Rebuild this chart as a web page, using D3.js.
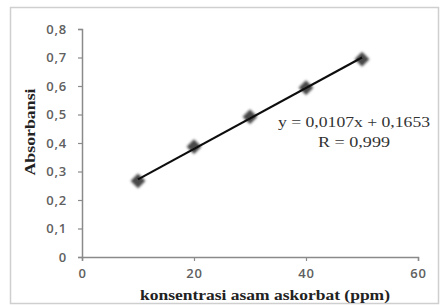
<!DOCTYPE html>
<html><head><meta charset="utf-8">
<script src="https://cdn.jsdelivr.net/npm/d3@7"></script>
<style>html,body{margin:0;padding:0;background:#fff;}svg{display:block;}</style>
</head><body>
<script>
const concentrations = [10, 20, 30, 40, 50];
const absorbance = [0.267, 0.387, 0.492, 0.594, 0.694];
const xTicks = [0, 20, 40, 60];
const yTicks = [0, 0.1, 0.2, 0.3, 0.4, 0.5, 0.6, 0.7, 0.8];
const slope = 0.0107, intercept = 0.1653;
const equationLabels = ["y = 0,0107x + 0,1653", "R = 0,999"];
const xTitle = "konsentrasi asam askorbat (ppm)";
const yTitle = "Absorbansi";

const W = 442, H = 305;
const svg = d3.select("body").append("svg").attr("width", W).attr("height", H);
svg.append("rect").attr("x", 10.5).attr("y", 7.5).attr("width", 428).attr("height", 296)
  .attr("fill", "#fff").attr("stroke", "#cfcfcf").attr("stroke-width", 1.5);

const x = d3.scaleLinear().domain([0, 60]).range([82, 418]);
const y = d3.scaleLinear().domain([0, 0.8]).range([257, 29]);
const fmt = d => d3.format(".1f")(d).replace(".", ",");

const xa = svg.append("g").attr("transform", `translate(0,${y(0)})`)
  .call(d3.axisBottom(x).tickValues(xTicks).tickSize(4).tickPadding(8).tickFormat(d => d));
const ya = svg.append("g").attr("transform", `translate(${x(0)},0)`)
  .call(d3.axisLeft(y).tickValues(yTicks).tickSize(4).tickPadding(11).tickFormat(d => d === 0 ? "0" : fmt(d)));
[xa, ya].forEach(a => {
  a.select(".domain").attr("stroke", "#8a8a8a").attr("stroke-width", 1.5);
  a.selectAll(".tick line").attr("stroke", "#8a8a8a").attr("stroke-width", 1.2);
  a.selectAll("text").attr("font-family", "'Open Sans', sans-serif").attr("font-size", 13)
    .attr("font-weight", 600).attr("fill", "#606060").attr("letter-spacing", 0.8);
});

const defs = svg.append("defs");
const f = defs.append("filter").attr("id", "blur").attr("x", "-50%").attr("y", "-50%").attr("width", "200%").attr("height", "200%");
f.append("feGaussianBlur").attr("stdDeviation", 1.1);
const f2 = defs.append("filter").attr("id", "blur2");
f2.append("feGaussianBlur").attr("stdDeviation", 0.4);

const data = concentrations.map((c, i) => ({c, a: absorbance[i]}));
svg.append("g").selectAll("path").data(data).join("path")
  .attr("d", d3.symbol().type(d3.symbolSquare).size(110)())
  .attr("transform", d => `translate(${x(d.c)},${y(d.a)}) rotate(45)`)
  .attr("fill", "#484848").attr("filter", "url(#blur)");

const xs = d3.extent(concentrations);
svg.append("line")
  .attr("x1", x(xs[0])).attr("y1", y(slope * xs[0] + intercept))
  .attr("x2", x(xs[1])).attr("y2", y(slope * xs[1] + intercept))
  .attr("stroke", "#111").attr("stroke-width", 2.2).attr("filter", "url(#blur2)");

const eqLen = [152, 72];
svg.append("g").selectAll("text").data(equationLabels).join("text")
  .attr("x", 354).attr("y", (d, i) => 127 + i * 20)
  .attr("text-anchor", "middle").attr("font-family", "'Liberation Serif', serif")
  .attr("font-size", 15).attr("fill", "#333")
  .attr("textLength", (d, i) => eqLen[i]).attr("lengthAdjust", "spacingAndGlyphs").text(d => d);

svg.append("text").attr("x", 265).attr("y", 300).attr("text-anchor", "middle")
  .attr("font-family", "'Liberation Serif', serif").attr("font-weight", "bold").attr("font-size", 14)
  .attr("fill", "#222").attr("textLength", 250).attr("lengthAdjust", "spacingAndGlyphs").text(xTitle);
svg.append("text").attr("transform", `translate(35,132) rotate(-90)`).attr("text-anchor", "middle")
  .attr("font-family", "'Liberation Serif', serif").attr("font-weight", "bold").attr("font-size", 14)
  .attr("fill", "#222").attr("textLength", 87).attr("lengthAdjust", "spacingAndGlyphs").text(yTitle);
</script>
</body></html>
